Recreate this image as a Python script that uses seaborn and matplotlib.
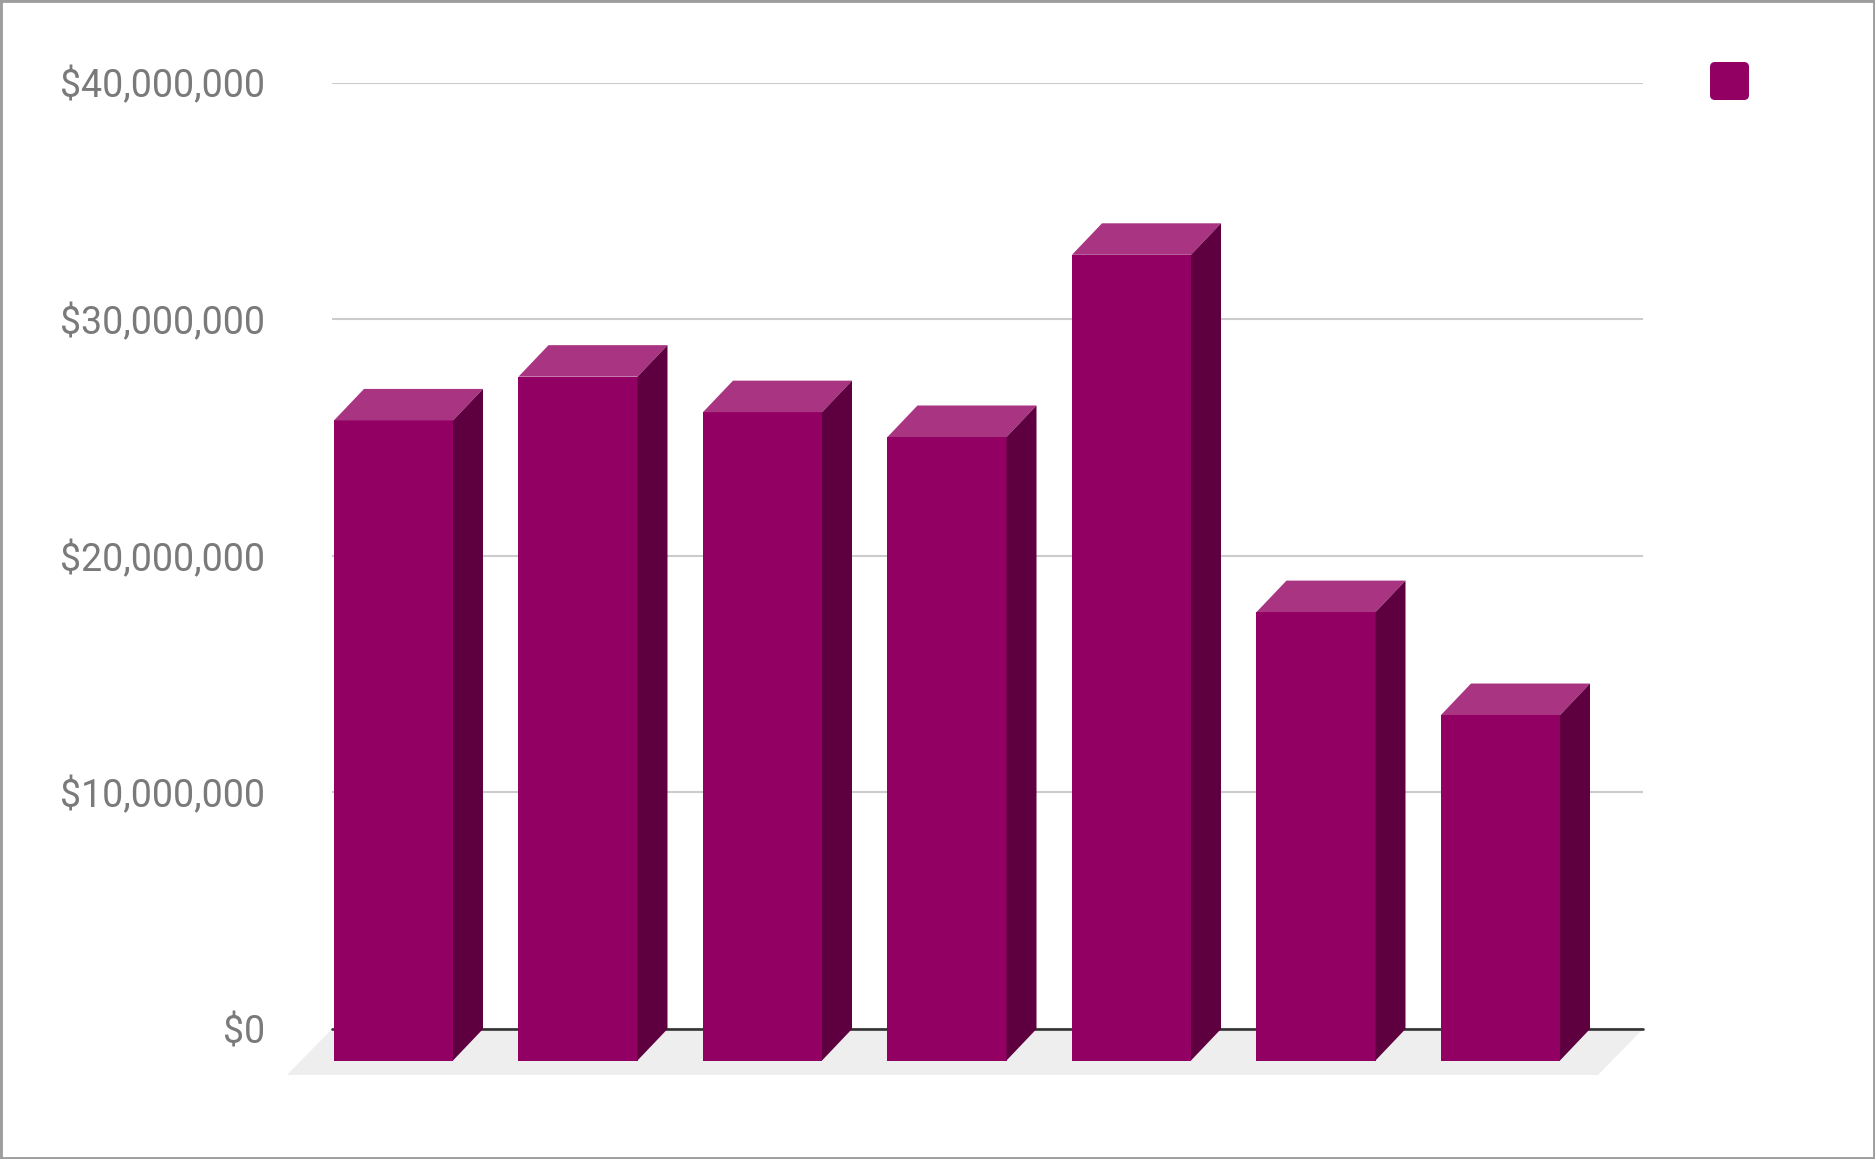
import matplotlib
matplotlib.use("Agg")
import matplotlib.pyplot as plt
import seaborn as sns
import numpy as np
from matplotlib.patches import Polygon, FancyBboxPatch, Rectangle
from matplotlib.ticker import FuncFormatter

# ---- data ----
categories = ["1", "2", "3", "4", "5", "6", "7"]
values = [27.05e6, 28.9e6, 27.4e6, 26.35e6, 34.05e6, 18.95e6, 14.6e6]
yticks = [0, 10e6, 20e6, 30e6, 40e6]

# ---- style ----
FRONT = "#930063"
TOP = "#a83482"
SIDE = "#5e003f"
FLOOR = "#eeeeee"
GRID = "#cccccc"
BASE = "#333333"
TXT = "#7a7a7a"

sns.set_theme(style="white")
plt.rcParams["font.family"] = ["Roboto", "DejaVu Sans"]

W, H = 1875, 1159
fig = plt.figure(figsize=(W / 100, H / 100), dpi=100)
ax_l, ax_r, ax_b, ax_t = 332, 1643, 1029, 82.5
ax = fig.add_axes([ax_l / W, (H - ax_b) / H, (ax_r - ax_l) / W, (ax_b - ax_t) / H])

bar_w = 0.645
sns.barplot(x=categories, y=values, color=FRONT, saturation=1, width=bar_w,
            errorbar=None, ax=ax, zorder=5)

pitch_px = 184.5
c0_px = 423.5
xlim = ((ax_l - c0_px) / pitch_px, (ax_r - c0_px) / pitch_px)
ax.set_xlim(*xlim)
ax.set_ylim(0, 40e6)

# pixel -> data conversions for the 3D depth offsets
px_per_val = (ax_b - ax_t) / 40e6
ddx = 30 / pitch_px
ddy = 31.5 / px_per_val
fdx = 45 / pitch_px
fdy = 46 / px_per_val

# floor
floor = Polygon([(xlim[0], 0), (xlim[1], 0), (xlim[1] - fdx, -fdy), (xlim[0] - fdx, -fdy)],
                closed=True, facecolor=FLOOR, edgecolor="none", zorder=0, clip_on=False)
ax.add_patch(floor)

# grid + baseline
ax.yaxis.grid(True, color=GRID, linewidth=1.5, zorder=1)
ax.set_axisbelow(True)
ax.axhline(0, color=BASE, linewidth=1.9, zorder=2, clip_on=False)

# 3D faces
for p in list(ax.patches):
    if p is floor:
        continue
    x = p.get_x()
    w = p.get_width()
    v = p.get_height()
    p.set_x(x - ddx)
    p.set_y(-ddy)
    p.set_clip_on(False)
    p.set_edgecolor("none")
    top = Polygon([(x - ddx, v - ddy), (x + w - ddx, v - ddy), (x + w, v), (x, v)],
                  closed=True, facecolor=TOP, edgecolor="none", zorder=5, clip_on=False)
    side = Polygon([(x + w - ddx, -ddy), (x + w, 0), (x + w, v), (x + w - ddx, v - ddy)],
                   closed=True, facecolor=SIDE, edgecolor="none", zorder=5, clip_on=False)
    ax.add_patch(top)
    ax.add_patch(side)

# axes cosmetics
for s in ax.spines.values():
    s.set_visible(False)
ax.set_yticks(yticks)
ax.yaxis.set_major_formatter(FuncFormatter(lambda v, _: f"${v:,.0f}"))
ax.tick_params(axis="y", length=0, pad=48, labelsize=27, labelcolor=TXT)
ax.set_xticks([])
ax.set_xlabel("")
ax.set_ylabel("")

# legend swatch (series has no name)
fig.add_artist(FancyBboxPatch((17.10, (H - 100) / 100), 0.39, 0.38,
                              boxstyle="round,pad=0,rounding_size=0.05",
                              transform=fig.dpi_scale_trans,
                              facecolor=FRONT, edgecolor="none"))

# outer frame
fig.add_artist(Rectangle((0, 0), 1, 1, transform=fig.transFigure, fill=False,
                         edgecolor="#9e9e9e", linewidth=3.5))

fig.savefig("out.png", dpi=100)
